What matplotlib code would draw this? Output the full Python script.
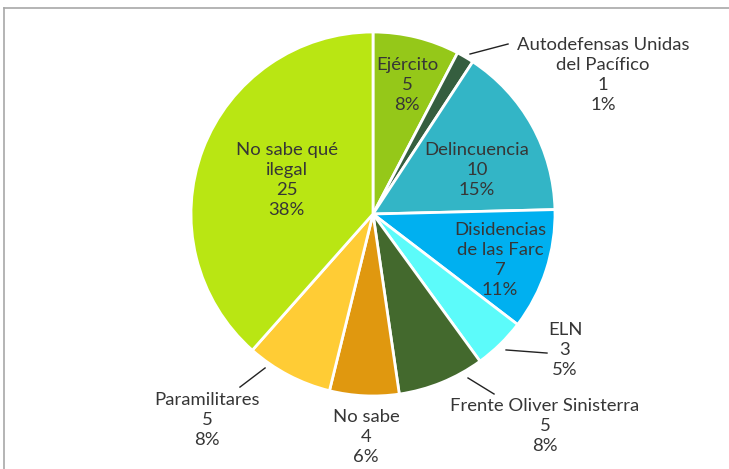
import matplotlib
matplotlib.use("Agg")
import matplotlib.pyplot as plt
from matplotlib.lines import Line2D

plt.rcParams["font.family"] = ["Lato", "DejaVu Sans"]

# ---- data ----
labels = ["Ejército", "Autodefensas Unidas\ndel Pacífico", "Delincuencia",
          "Disidencias\nde las Farc", "ELN", "Frente Oliver Sinisterra",
          "No sabe", "Paramilitares", "No sabe qué\nilegal"]
values = [5, 1, 10, 7, 3, 5, 4, 5, 25]
pcts = ["8%", "1%", "15%", "11%", "5%", "8%", "6%", "8%", "38%"]
colors = ["#95C819", "#355E3F", "#33B5C6", "#00B0F0", "#5CFBFA",
          "#43692D", "#E0980F", "#FFCC35", "#B9E613"]

# label placement (in pie-radius units), leader lines for outside labels
label_pos = [(0.187, 0.709), (1.264, 0.764), (0.571, 0.242), (0.698, -0.253),
             (1.055, -0.747), (0.945, -1.165), (-0.038, -1.225),
             (-0.912, -1.132), (-0.473, 0.187)]
leaders = [None, ((0.533, 0.879), (0.742, 0.934)), None, None,
           ((0.731, -0.747), (0.956, -0.764)),
           ((0.522, -0.901), (0.665, -0.989)), None,
           ((-0.593, -0.846), (-0.731, -0.951)), None]

W, H = 729, 469
fig = plt.figure(figsize=(W / 100, H / 100), dpi=100)
cx, cy, R = 373, 214, 182
ax = fig.add_axes([(cx - R) / W, (H - cy - R) / H, 2 * R / W, 2 * R / H])

wedges, _ = ax.pie(values, colors=colors, startangle=90, counterclock=False,
                   radius=1, wedgeprops={"edgecolor": "white", "linewidth": 2})
ax.set_xlim(-1, 1); ax.set_ylim(-1, 1)
ax.axis("off")

txt_col = "#363636"
for lab, v, p, pos, ld in zip(labels, values, pcts, label_pos, leaders):
    ax.text(pos[0], pos[1], f"{lab}\n{v}\n{p}", ha="center", va="center",
            fontsize=13.3, color=txt_col, linespacing=1.3, clip_on=False)
    if ld is not None:
        (x0, y0), (x1, y1) = ld
        ax.plot([x0, x1], [y0, y1], color="#222222", lw=1, clip_on=False)

# frame border (top and left visible)
fig.add_artist(Line2D([4 / W, 1], [1 - 8 / H, 1 - 8 / H], color="#A8A8A8", lw=1.2))
fig.add_artist(Line2D([4 / W, 4 / W], [0, 1 - 8 / H], color="#A8A8A8", lw=1.2))

fig.savefig("out.png", dpi=100, facecolor="white")
